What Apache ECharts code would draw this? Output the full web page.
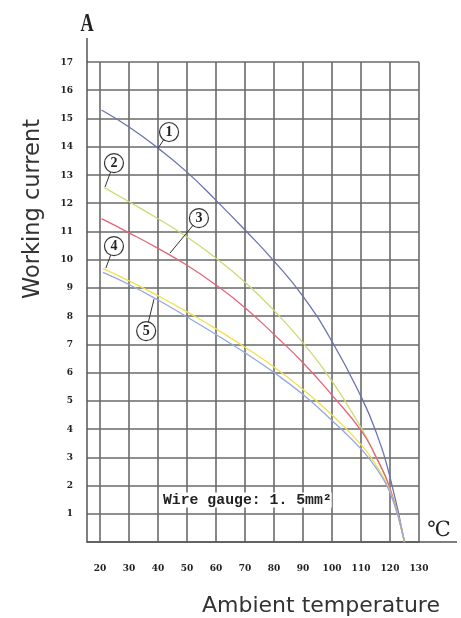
<!DOCTYPE html>
<html><head><meta charset="utf-8">
<script src="https://cdn.jsdelivr.net/npm/echarts@6/dist/echarts.min.js"></script>
<style>html,body{margin:0;padding:0;background:#fff}#c{width:461px;height:618px}</style>
</head><body><div id="c"></div>
<script>
// Data (x = ambient temperature °C, y = working current A)
const xTicks = [20,30,40,50,60,70,80,90,100,110,120,130];
const curve1 = [[20.5,15.3],[30,14.7],[40,13.95],[50,13.1],[60,12.1],[70,11.05],[80,9.95],[90,8.7],[100,7.1],[110,5.15],[115,3.95],[120,2.3],[125,0]];
const curve2 = [[21.5,12.55],[30,12.05],[40,11.45],[50,10.8],[60,10.05],[70,9.2],[80,8.2],[90,7.05],[100,5.7],[110,4.05],[115,3.05],[120,1.9],[125,0]];
const curve3 = [[20.5,11.45],[30,10.95],[40,10.4],[50,9.8],[60,9.1],[70,8.3],[80,7.35],[90,6.35],[100,5.2],[110,3.95],[115,3.05],[120,1.9],[125,0]];
const curve4 = [[21,9.68],[30,9.25],[40,8.72],[50,8.15],[60,7.55],[70,6.9],[80,6.2],[90,5.4],[100,4.5],[110,3.45],[115,2.75],[120,1.8],[125,0]];
const curve5 = [[21,9.55],[30,9.12],[40,8.57],[50,7.97],[60,7.35],[70,6.7],[80,6.0],[90,5.22],[100,4.3],[110,3.3],[115,2.65],[120,1.75],[125,0]];
const curveColors = ['#6a72b0','#c9dc72','#e2667a','#f0e04a','#93a8e0'];
// callouts: label, circle centre, point on curve
const calloutLabels = ['1','2','3','4','5'];
const calloutCircles = [[43.8,14.52],[24.8,13.42],[54.1,11.47],[24.8,10.48],[35.9,7.47]];
const calloutTargets = [[40,13.95],[21.7,12.57],[44.1,10.23],[22,9.7],[38.6,8.6]];
const noteText = 'Wire gauge: 1. 5mm²';
const notePos = [41.7,1.49];

const G = {left:87, right:42, top:62, bottom:76};
const gridColor = '#6a6a6a';
const tickFont = {fontFamily:'DejaVu Serif Condensed', fontWeight:'bold', fontSize:10, color:'#222'};

const chart = echarts.init(document.getElementById('c'), null, {renderer:'canvas'});
const curves = [curve1,curve2,curve3,curve4,curve5];
const series = curves.map((d,i)=>({
  type:'line', data:d, smooth:0.5, showSymbol:false, z:3,
  lineStyle:{color:curveColors[i], width:1.3}, silent:true
}));
series.push({
  type:'lines', coordinateSystem:'cartesian2d', z:4, silent:true,
  lineStyle:{color:'#333', width:1, opacity:1},
  data: calloutCircles.map((c,i)=>({coords:[c, calloutTargets[i]]}))
});
series.push({
  type:'scatter', z:5, silent:true, symbol:'circle', symbolSize:19,
  itemStyle:{color:'#fff', borderColor:'#333', borderWidth:1.2, opacity:1},
  label:{show:true, position:'inside', formatter:p=>calloutLabels[p.dataIndex],
    fontFamily:'Liberation Serif', fontWeight:'bold', fontSize:14, color:'#222'},
  data: calloutCircles
});

chart.setOption({
  animation:false,
  grid:{left:G.left, right:G.right, top:G.top, bottom:G.bottom, containLabel:false},
  xAxis:{type:'value', min:15.5, max:130,
    axisLine:{show:true, lineStyle:{color:'#555', width:1.5}},
    axisTick:{show:false, customValues:xTicks},
    axisLabel:{customValues:xTicks, margin:21, ...tickFont},
    splitLine:{show:true, lineStyle:{color:gridColor, width:1.6}}
  },
  yAxis:{type:'value', min:0, max:17, interval:1,
    axisLine:{show:true, lineStyle:{color:'#555', width:1.5}},
    axisTick:{show:false},
    axisLabel:{margin:14, formatter:v=>v===0?'':String(v), ...tickFont},
    splitLine:{show:true, lineStyle:{color:gridColor, width:1.6}}
  },
  series
});

const W = 461, H = 618;
const x0 = G.left, yBottom = H - G.bottom, yTop = G.top, xRight = W - G.right;
const np = chart.convertToPixel({gridIndex:0}, notePos);
chart.setOption({
  graphic:[
    {type:'line', shape:{x1:x0, y1:yTop, x2:x0, y2:38}, style:{stroke:'#555', lineWidth:1.5}},
    {type:'line', shape:{x1:xRight, y1:yBottom, x2:457, y2:yBottom}, style:{stroke:'#555', lineWidth:1.5}},
    {type:'text', x:87, y:24, style:{text:'A', font:'bold 26px "Liberation Serif"', fill:'#222', align:'center', verticalAlign:'middle'}, scaleX:0.7},
    {type:'text', x:439, y:531, style:{text:'℃', font:'21px "DejaVu Serif"', fill:'#222', align:'center', verticalAlign:'middle'}},
    {type:'text', x:33, y:209, rotation:Math.PI/2, style:{text:'Working current', font:'22.5px "DejaVu Sans"', fill:'#333', align:'center', verticalAlign:'middle'}},
    {type:'text', x:321, y:606, style:{text:'Ambient temperature', font:'22px "DejaVu Sans"', fill:'#333', align:'center', verticalAlign:'middle'}},
    {type:'text', x:np[0], y:np[1], z:10, style:{text:noteText, font:'bold 14.8px "Liberation Mono"', fill:'#222', align:'left', verticalAlign:'middle', backgroundColor:'#fff'}}
  ]
});
</script></body></html>
